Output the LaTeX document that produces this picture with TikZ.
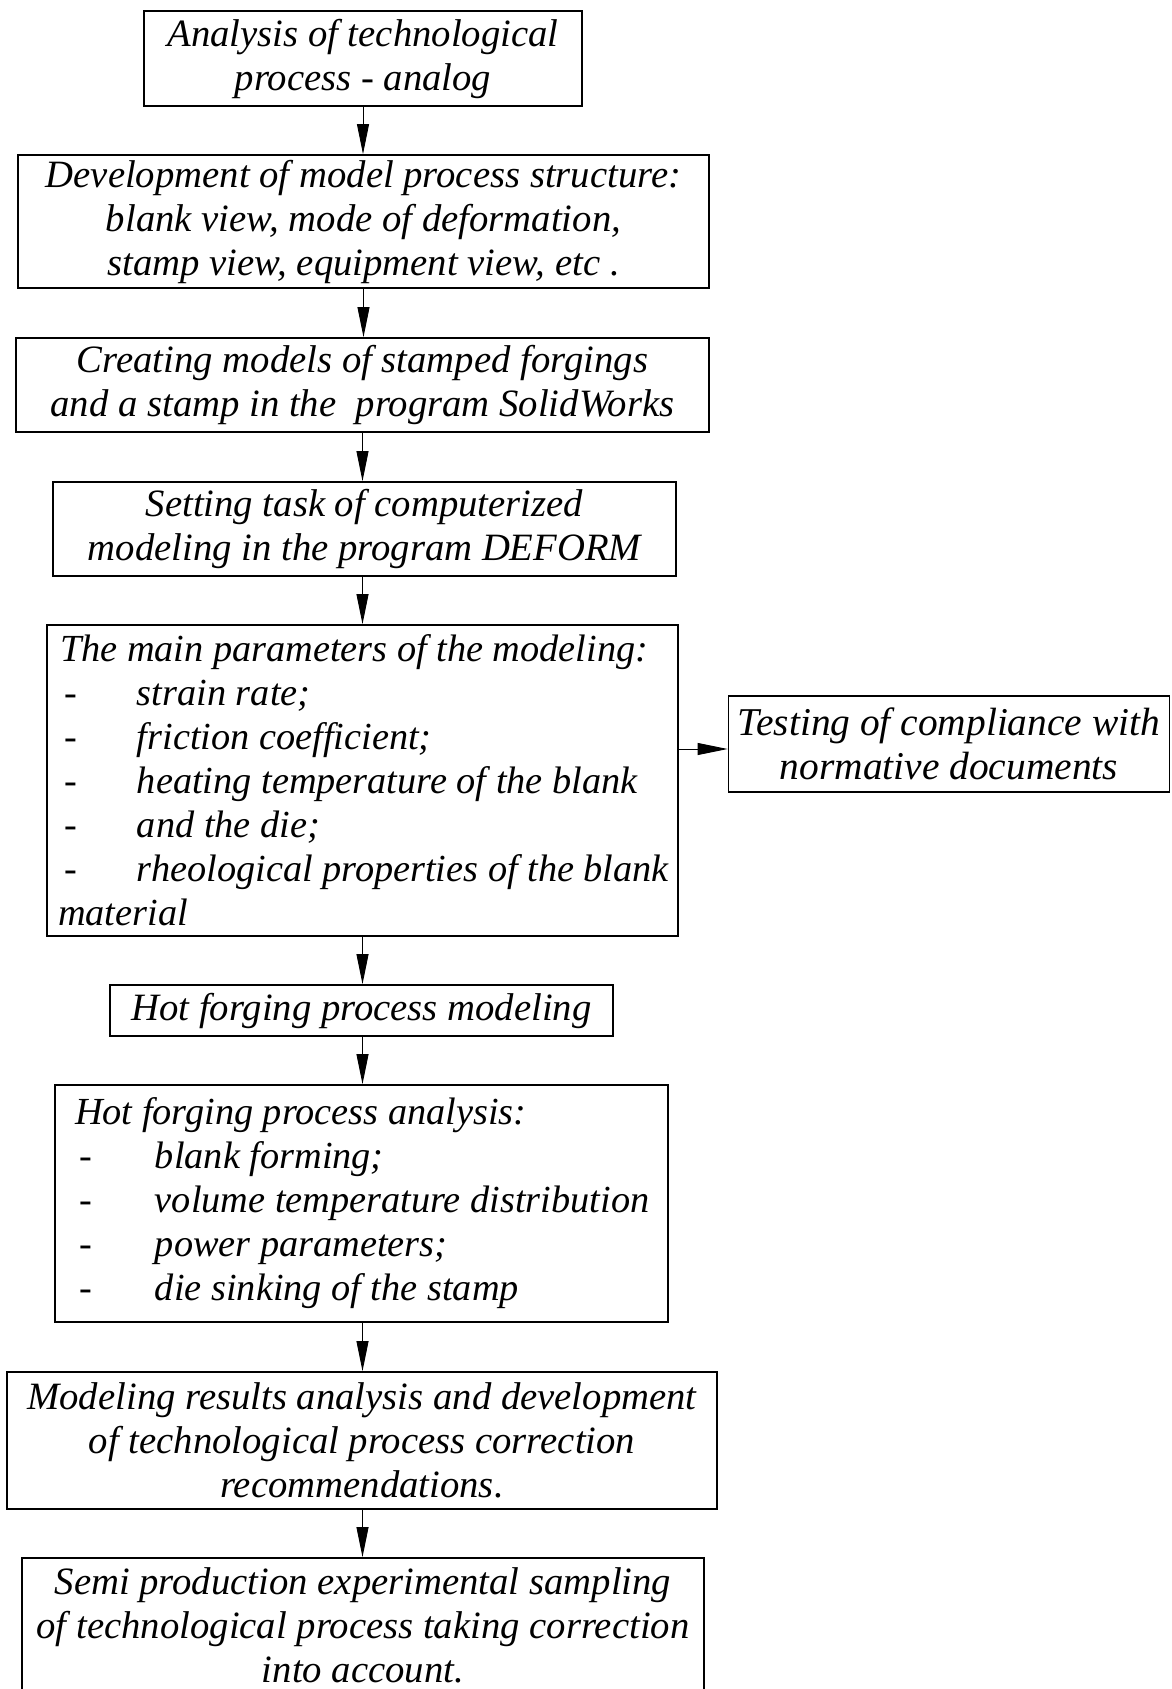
\documentclass[tikz,border=0pt]{standalone}
\usepackage{fontspec}
\setmainfont{Liberation Serif}
\usetikzlibrary{arrows.meta}
\begin{document}
\begin{tikzpicture}[x=1pt,y=-1pt,
  box/.style={draw,line width=1.8pt,inner sep=0pt,align=flush center,
    font=\fontsize{38.7}{44}\selectfont\itshape},
  lbox/.style={draw,line width=1.8pt,inner sep=0pt,align=flush left,
    font=\fontsize{38.3}{44}\selectfont\itshape},
  arr/.style={line width=0.9pt,-{Triangle[length=30pt,width=12pt]}}]
\clip (0,0) rectangle (1172,1689);
\fill[white] (0,0) rectangle (1172,1689);
\node[box,minimum width=438,minimum height=95] (b1) at (363,58.5)
  {Analysis of technological\\process - analog};
\node[box,minimum width=691,minimum height=133] (b2) at (363.5,221.5)
  {Development of model process structure:\\blank view, mode of deformation,\\stamp view, equipment view, etc .};
\node[box,minimum width=693,minimum height=94] (b3) at (362.5,385)
  {Creating models of stamped forgings\\and a stamp in the\ \ program SolidWorks};
\node[box,minimum width=623,minimum height=94] (b4) at (364.5,529)
  {Setting task of computerized\\modeling in the program DEFORM};
\node[lbox,text width=631,minimum height=311] (b5) at (362.5,780.5)
  {\hspace*{13pt}The main parameters of the modeling:\\
   \hspace*{17pt}\makebox[73pt][l]{-}strain rate;\\
   \hspace*{17pt}\makebox[73pt][l]{-}friction coefficient;\\
   \hspace*{17pt}\makebox[73pt][l]{-}heating temperature of the blank\\
   \hspace*{17pt}\makebox[73pt][l]{-}and the die;\\
   \hspace*{17pt}\makebox[73pt][l]{-}rheological properties of the blank\\
   \hspace*{11pt}material};
\node[box,minimum width=441,minimum height=96,font=\fontsize{39.4}{44}\selectfont\itshape] (t) at (949,744)
  {Testing of compliance with\\normative documents};
\node[box,minimum width=503,minimum height=51] (b6) at (361.5,1010.5)
  {Hot forging process modeling};
\node[lbox,text width=613,minimum height=237] (b7) at (361.5,1203.5)
  {\hspace*{20pt}Hot forging process analysis:\\
   \hspace*{24pt}\makebox[76pt][l]{-}blank forming;\\
   \hspace*{24pt}\makebox[76pt][l]{-}volume temperature distribution\\
   \hspace*{24pt}\makebox[76pt][l]{-}power parameters;\\
   \hspace*{24pt}\makebox[76pt][l]{-}die sinking of the stamp};
\node[box,minimum width=710,minimum height=137] (b8) at (362,1440.5)
  {Modeling results analysis and development\\of technological process correction\\recommendations.};
\node[box,minimum width=682,minimum height=134] (b9) at (363,1625)
  {Semi production experimental sampling\\of technological process taking correction\\into account.};
\draw[arr] (b1.south) -- (b1.south |- b2.north);
\draw[arr] (b2.south) -- (b2.south |- b3.north);
\draw[arr] (b3.south) -- (b3.south |- b4.north);
\draw[arr] (b4.south -| b3.south) -- (b3.south |- b5.north);
\draw[arr] (b5.south) -- (b5.south |- b6.north);
\draw[arr] (b6.south -| b5.south) -- (b5.south |- b7.north);
\draw[arr] (b7.south -| b5.south) -- (b5.south |- b8.north);
\draw[arr] (b8.south -| b5.south) -- (b5.south |- b9.north);
\draw[arr] ([yshift=-5pt]t.west -| b5.east) -- ([yshift=-5pt]t.west);
\end{tikzpicture}
\end{document}
